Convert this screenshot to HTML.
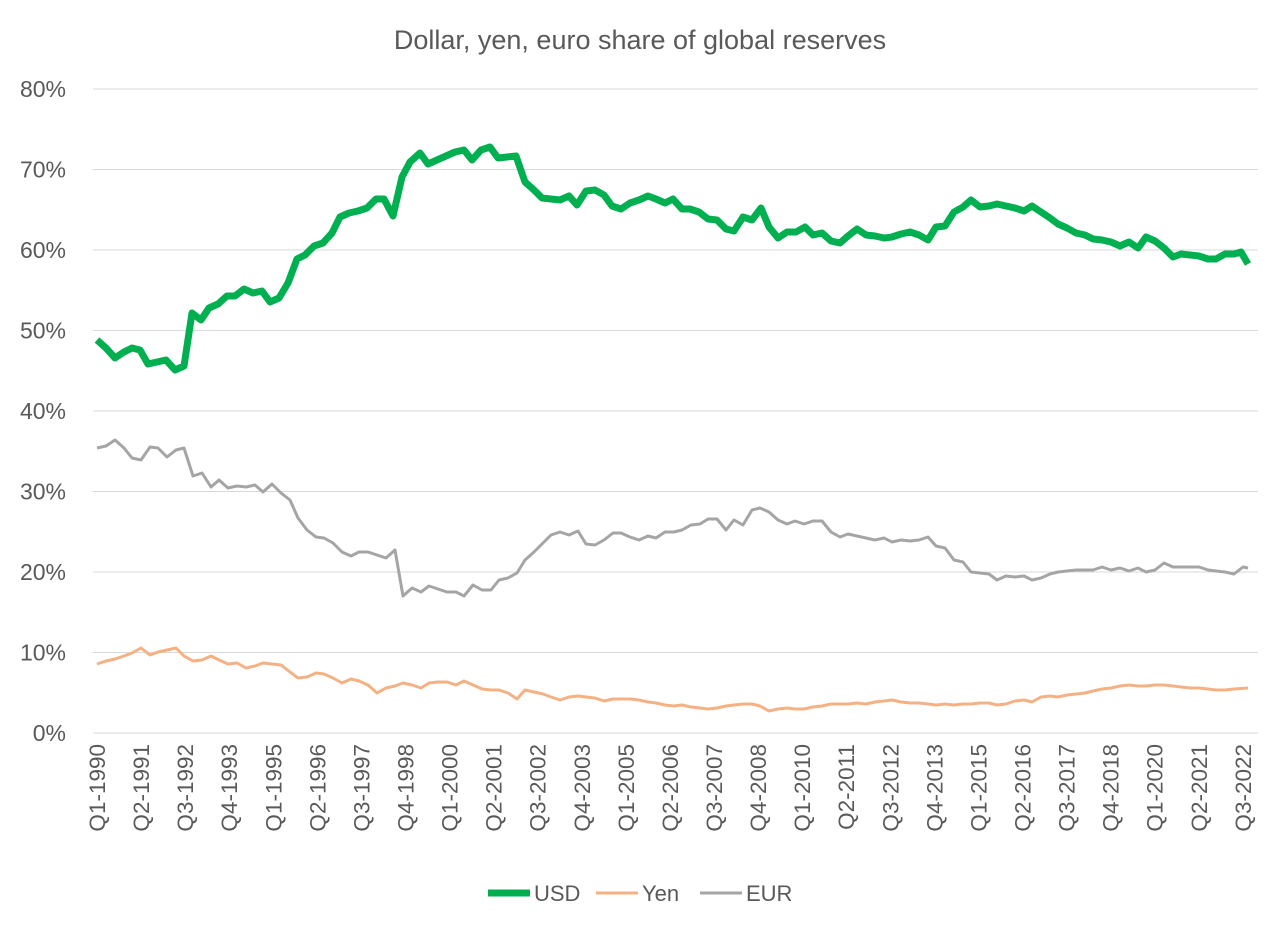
<!DOCTYPE html>
<html><head><meta charset="utf-8"><style>
html,body{margin:0;padding:0;background:#fff;}
svg{display:block;font-family:"Liberation Sans",sans-serif;}
</style></head><body>
<svg id="c" width="1280" height="930" viewBox="0 0 1280 930">
<rect width="1280" height="930" fill="#fff"/>
<text x="640" y="49" text-anchor="middle" font-size="27" fill="#595959">Dollar, yen, euro share of global reserves</text>
<g id="grid" stroke="#d9d9d9" stroke-width="1"></g>
<g id="ylab" font-size="23" fill="#595959" text-anchor="end"></g>
<g id="xlab" font-size="22.5" fill="#595959" text-anchor="end"></g>
<polyline id="eur" fill="none" stroke="#a5a5a5" stroke-width="3" stroke-linejoin="round" points="97,448 106,446 115,440 124,448 132,458 141,460 150,447 158,448 167,457 176,450 184,448 193,476 202,473 211,487 219,480 228,488 237,486 246,487 255,485 263,492 272,484 281,493 290,500 298,518 307,530 316,537 324,538 333,543 342,552 351,556 359,552 368,552 377,555 386,558 395,550 403,596 412,588 421,592 429,586 438,589 447,592 456,592 464,596 473,585 482,590 491,590 499,580 508,578 517,573 525,560 534,552 543,543 551,535 560,532 569,535 578,531 586,544 595,545 604,540 613,533 621,533 630,537 639,540 648,536 656,538 665,532 674,532 682,530 691,525 700,524 708,519 717,519 726,530 734,520 743,525 752,510 760,508 769,512 778,520 787,524 795,521 804,524 813,521 822,521 831,532 840,537 848,534 857,536 866,538 875,540 884,538 892,542 901,540 910,541 919,540 928,537 936,546 945,548 954,560 963,562 971,572 980,573 989,574 997,580 1006,576 1015,577 1024,576 1032,580 1041,578 1050,574 1058,572 1067,571 1076,570 1085,570 1093,570 1102,567 1111,570 1120,568 1129,571 1138,568 1146,572 1155,570 1164,563 1173,567 1181,567 1190,567 1199,567 1208,570 1216,571 1225,572 1234,574 1243,567 1248,568"/>
<polyline fill="none" stroke="#f4b183" stroke-width="3" stroke-linejoin="round" points="97,664 106,661 115,659 124,656 132,653 141,648 150,655 158,652 167,650 176,648 184,656 193,661 202,660 211,656 219,660 228,664 237,663 246,668 255,666 263,663 272,664 281,665 290,672 298,678 307,677 316,673 324,674 333,678 342,683 351,679 359,681 368,685 377,693 386,688 395,686 403,683 412,685 421,688 429,683 438,682 447,682 456,685 464,681 473,685 482,689 491,690 499,690 508,693 517,699 525,690 534,692 543,694 551,697 560,700 569,697 578,696 586,697 595,698 604,701 613,699 621,699 630,699 639,700 648,702 656,703 665,705 674,706 682,705 691,707 700,708 708,709 717,708 726,706 734,705 743,704 752,704 760,706 769,711 778,709 787,708 795,709 804,709 813,707 822,706 831,704 840,704 848,704 857,703 866,704 875,702 884,701 892,700 901,702 910,703 919,703 928,704 936,705 945,704 954,705 963,704 971,704 980,703 989,703 997,705 1006,704 1015,701 1024,700 1032,702 1041,697 1050,696 1058,697 1067,695 1076,694 1085,693 1093,691 1102,689 1111,688 1120,686 1129,685 1138,686 1146,686 1155,685 1164,685 1173,686 1181,687 1190,688 1199,688 1208,689 1216,690 1225,690 1234,689 1248,688"/>
<polyline fill="none" stroke="#00b050" stroke-width="7" stroke-linejoin="round" points="97,340 106,348 115,358 124,352 132,348 140,350 148,364 157,362 166,360 175,370 184,366 192,313 201,320 209,308 218,304 227,296 235,296 244,289 253,293 262,291 270,302 279,298 288,283 297,259 305,255 314,246 323,243 332,233 340,217 349,213 358,211 367,208 376,199 384,199 393,216 402,177 410,162 420,153 428,164 437,160 446,156 455,152 464,150 472,160 481,150 490,147 498,158 507,157 516,156 525,182 534,190 542,198 551,199 560,200 569,196 577,205 586,191 595,190 604,195 612,206 621,209 630,203 639,200 648,196 656,199 665,203 673,199 682,209 690,209 699,212 708,219 717,220 726,229 734,231 743,217 752,220 761,208 769,227 778,238 787,232 796,232 805,227 813,235 822,233 831,241 840,243 848,236 857,229 866,235 875,236 884,238 892,237 901,234 910,232 919,235 928,240 936,227 945,226 954,212 963,207 971,200 980,207 989,206 997,204 1006,206 1015,208 1024,211 1032,206 1041,212 1050,218 1058,224 1067,228 1076,233 1085,235 1093,239 1102,240 1111,242 1120,246 1129,242 1138,248 1146,237 1155,241 1164,248 1173,257 1181,254 1190,255 1199,256 1208,259 1216,259 1225,254 1234,254 1241,252 1248,264"/>
<g font-size="22" fill="#595959">
<line x1="488" y1="893" x2="530" y2="893" stroke="#00b050" stroke-width="7"/>
<text x="534" y="901">USD</text>
<line x1="596" y1="893" x2="638" y2="893" stroke="#f4b183" stroke-width="3"/>
<text x="642" y="901">Yen</text>
<line x1="700" y1="893" x2="742" y2="893" stroke="#a5a5a5" stroke-width="3"/>
<text x="746" y="901">EUR</text>
</g>
</svg>
<script>
var ns="http://www.w3.org/2000/svg";
var g=document.getElementById('grid'),yl=document.getElementById('ylab'),xl=document.getElementById('xlab');
for(var i=0;i<=8;i++){var y=733-i*80.5;
var l=document.createElementNS(ns,'line');l.setAttribute('x1',93);l.setAttribute('x2',1258);l.setAttribute('y1',y);l.setAttribute('y2',y);g.appendChild(l);
var t=document.createElementNS(ns,'text');t.setAttribute('x',66);t.setAttribute('y',y+8);t.textContent=(i*10)+'%';yl.appendChild(t);}
for(var k=0;k<=26;k++){var q=k*5,yr=1990+Math.floor(q/4),qq=q%4+1;var x=97+k*44.07;
var t=document.createElementNS(ns,'text');t.setAttribute('transform','translate('+(x+8)+',744) rotate(-90)');t.textContent='Q'+qq+'-'+yr;xl.appendChild(t);}
</script>
</body></html>
